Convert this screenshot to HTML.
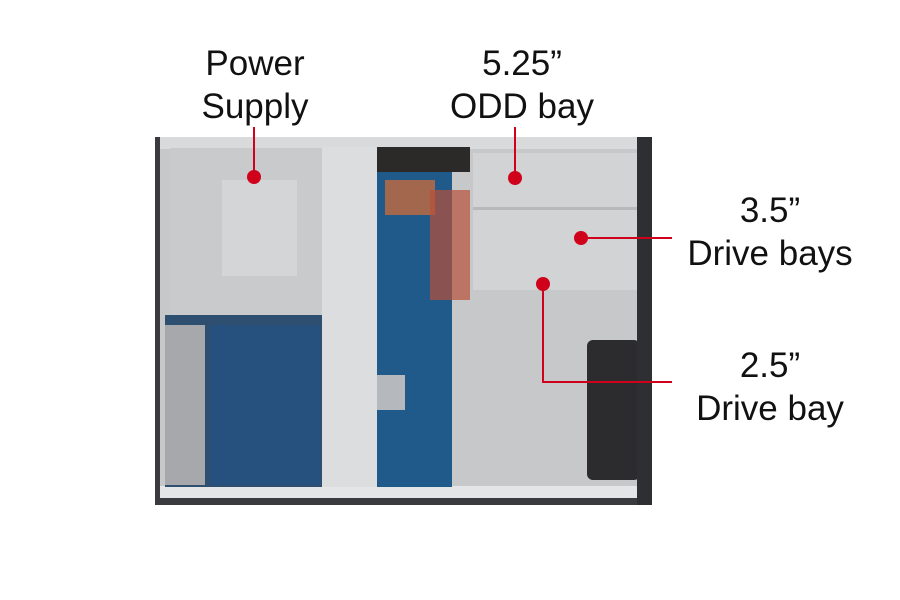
<!DOCTYPE html>
<html><head><style>
body{margin:0;width:900px;height:600px;background:#fff;position:relative;overflow:hidden;font-family:"Liberation Sans",sans-serif}
.a{position:absolute}
.t{position:absolute;font-size:35px;color:#111;text-align:center;line-height:43px;width:260px}
</style></head><body>
<div class="a" style="left:155px;top:137px;width:497px;height:368px;background:#3a3b3e"></div>
<div class="a" style="left:160px;top:137px;width:478px;height:12px;background:#d9dadc"></div>
<div class="a" style="left:160px;top:149px;width:477px;height:338px;background:#c7c8ca"></div>
<div class="a" style="left:160px;top:486px;width:478px;height:12px;background:#e4e5e7"></div>
<div class="a" style="left:170px;top:148px;width:152px;height:167px;background:#c9cacc"></div>
<div class="a" style="left:222px;top:180px;width:75px;height:96px;background:#d4d5d7"></div>
<div class="a" style="left:165px;top:315px;width:157px;height:172px;background:#2f4f70"></div>
<div class="a" style="left:210px;top:325px;width:110px;height:160px;background:#26507e"></div>
<div class="a" style="left:165px;top:325px;width:40px;height:160px;background:#a6a8ab"></div>
<div class="a" style="left:322px;top:147px;width:55px;height:340px;background:#dcdddf"></div>
<div class="a" style="left:377px;top:147px;width:93px;height:25px;background:#2c2a28"></div>
<div class="a" style="left:377px;top:172px;width:75px;height:315px;background:#1f5a8a"></div>
<div class="a" style="left:377px;top:375px;width:28px;height:35px;background:#b5b8bc"></div>
<div class="a" style="left:385px;top:180px;width:50px;height:35px;background:#c46a3e;opacity:.8"></div>
<div class="a" style="left:430px;top:190px;width:40px;height:110px;background:#b8503a;opacity:.7"></div>
<div class="a" style="left:473px;top:153px;width:165px;height:137px;background:#d2d3d5"></div>
<div class="a" style="left:473px;top:207px;width:165px;height:3px;background:#b8b9bb"></div>
<div class="a" style="left:587px;top:340px;width:53px;height:140px;background:#2c2c2e;border-radius:6px"></div>
<div class="a" style="left:637px;top:137px;width:15px;height:368px;background:#2e2f32"></div>
<div class="t" style="left:125px;top:42px">Power<br>Supply</div>
<div class="t" style="left:392px;top:42px">5.25”<br>ODD bay</div>
<div class="t" style="left:640px;top:189px">3.5”<br>Drive bays</div>
<div class="t" style="left:640px;top:344px">2.5”<br>Drive bay</div>
<svg class="a" style="left:0;top:0" width="900" height="600">
<g stroke="#d0021b" stroke-width="2" fill="none">
<line x1="254" y1="127" x2="254" y2="177"/>
<line x1="515" y1="127" x2="515" y2="178"/>
<line x1="581" y1="238" x2="672" y2="238"/>
<polyline points="543,284 543,382 672,382"/>
</g>
<g fill="#d0021b">
<circle cx="254" cy="177" r="7"/><circle cx="515" cy="178" r="7"/>
<circle cx="581" cy="238" r="7"/><circle cx="543" cy="284" r="7"/>
</g></svg>
</body></html>
